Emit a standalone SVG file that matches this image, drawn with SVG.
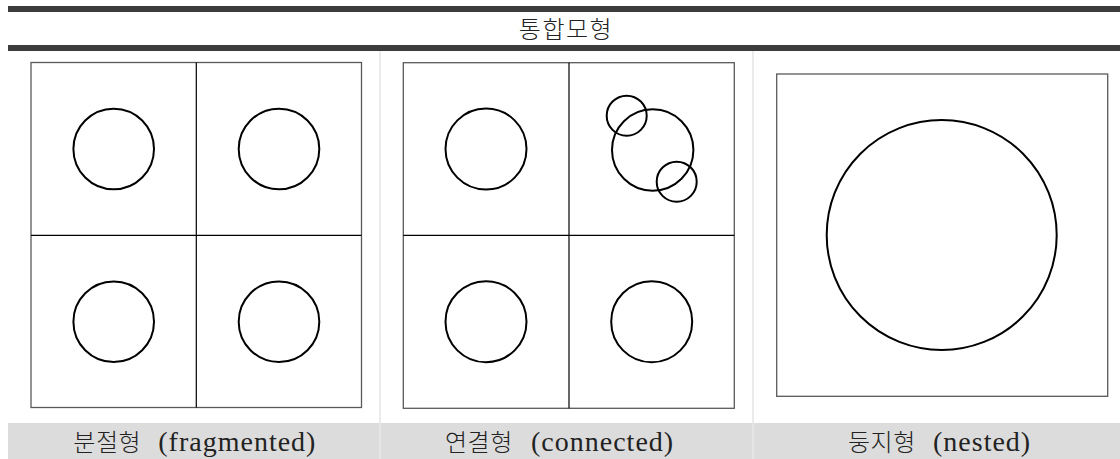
<svg xmlns="http://www.w3.org/2000/svg" width="1120" height="459" viewBox="0 0 1120 459">
<style>
.bar{fill:#3c3c3c}
.frame{fill:none;stroke:#5a5a5a;stroke-width:1.3}
.div{stroke:#000;stroke-width:1.2}
.c{fill:none;stroke:#000;stroke-width:2}
.col{stroke:#e4e4e4;stroke-width:1.5}
.kr{font-family:"Noto Sans CJK KR","Liberation Serif",serif;font-size:24px;font-weight:300;fill:#222}
.lt{font-family:"Liberation Serif",serif;font-size:28px;fill:#222;letter-spacing:1px}
</style>
<rect width="1120" height="459" fill="#fff"/>
<g id="header">
<rect class="bar" x="8" y="6" width="1112" height="6"/>
<rect class="bar" x="8" y="45" width="1112" height="6"/>
<text class="kr" x="566" y="38" text-anchor="middle" letter-spacing="1.5">통합모형</text>
</g>
<g id="columns">
<line class="col" x1="380" y1="51" x2="380" y2="423"/>
<line class="col" x1="753" y1="51" x2="753" y2="423"/>
</g>
<g id="fragmented">
<rect class="frame" x="31" y="62.5" width="330.5" height="345"/>
<line class="div" x1="196.3" y1="62.5" x2="196.3" y2="407.5"/>
<line class="div" x1="31" y1="235.3" x2="361.5" y2="235.3"/>
<circle class="c" cx="113.7" cy="149" r="40.3"/>
<circle class="c" cx="279" cy="149" r="40.3"/>
<circle class="c" cx="113.7" cy="321.7" r="40.3"/>
<circle class="c" cx="279" cy="321.7" r="40.3"/>
</g>
<g id="connected">
<rect class="frame" x="403.3" y="62.7" width="331" height="345.6"/>
<line class="div" x1="569" y1="62.7" x2="569" y2="408.3"/>
<line class="div" x1="403.3" y1="235.3" x2="734.3" y2="235.3"/>
<circle class="c" cx="486" cy="149" r="40.5"/>
<circle class="c" cx="652.7" cy="150" r="40.7"/>
<circle class="c" cx="626.7" cy="115.7" r="20"/>
<circle class="c" cx="676.7" cy="181.7" r="20"/>
<circle class="c" cx="486" cy="321.7" r="40.5"/>
<circle class="c" cx="651.7" cy="321.7" r="40.5"/>
</g>
<g id="nested">
<rect class="frame" x="776.7" y="74" width="331" height="322.3"/>
<circle class="c" cx="941.7" cy="235" r="115"/>
</g>
<g id="labels">
<rect x="8" y="423" width="1112" height="36" fill="#dcdcdc"/>
<line x1="380" y1="423" x2="380" y2="459" stroke="#e8e8e8" stroke-width="1.5"/>
<line x1="753" y1="423" x2="753" y2="459" stroke="#e8e8e8" stroke-width="1.5"/>
<text y="451"><tspan class="kr" x="73.3" letter-spacing="0.5">분절형</tspan><tspan class="lt" x="158.3">(fragmented)</tspan></text>
<text y="451"><tspan class="kr" x="445" letter-spacing="0.5">연결형</tspan><tspan class="lt" x="531">(connected)</tspan></text>
<text y="451"><tspan class="kr" x="848" letter-spacing="0.5">둥지형</tspan><tspan class="lt" x="933">(nested)</tspan></text>
</g>
</svg>
